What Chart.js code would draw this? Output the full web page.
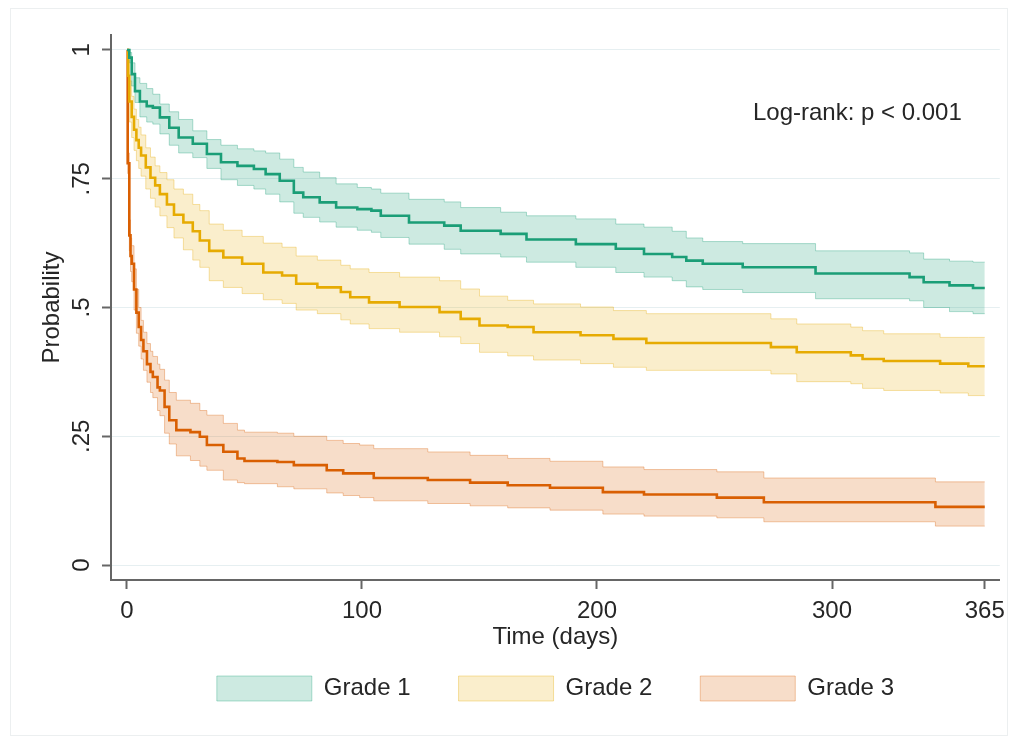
<!DOCTYPE html>
<html>
<head>
<meta charset="utf-8">
<title>Kaplan-Meier survival by grade</title>
<script src="https://cdn.jsdelivr.net/npm/chart.js@4/dist/chart.umd.min.js"></script>
<style>
  html, body { margin: 0; padding: 0; background: #ffffff; }
  canvas { display: block; }
</style>
</head>
<body>
<canvas id="km" width="1013" height="742"></canvas>
<script>
// Kaplan-Meier estimates with 95% confidence bands, one set per grade.
// Each grade: event times (days), survival estimate, lower and upper limits.
const grade1Time  = [0, 1, 2, 3.4, 5.5, 8.4, 11, 14, 18, 22, 28, 34, 40, 47, 54, 59, 65, 71, 75, 82, 89, 98, 104, 108, 120, 135, 142, 159, 170, 191, 208, 220, 232, 238, 245, 262, 293, 333, 339, 350, 360, 365];
const grade1Surv  = [1, 0.985, 0.953, 0.92, 0.90, 0.891, 0.888, 0.869, 0.849, 0.830, 0.818, 0.798, 0.782, 0.775, 0.769, 0.759, 0.746, 0.723, 0.714, 0.704, 0.694, 0.691, 0.688, 0.678, 0.665, 0.659, 0.649, 0.643, 0.632, 0.623, 0.614, 0.604, 0.598, 0.591, 0.585, 0.578, 0.566, 0.559, 0.549, 0.543, 0.538, 0.538];
const grade1Upper = [1, 0.995, 0.975, 0.946, 0.935, 0.925, 0.914, 0.895, 0.880, 0.865, 0.843, 0.826, 0.815, 0.808, 0.804, 0.800, 0.788, 0.772, 0.763, 0.752, 0.740, 0.733, 0.730, 0.722, 0.710, 0.705, 0.694, 0.685, 0.678, 0.672, 0.662, 0.656, 0.648, 0.635, 0.628, 0.624, 0.610, 0.606, 0.594, 0.590, 0.588, 0.588];
const grade1Lower = [1, 0.975, 0.93, 0.898, 0.870, 0.860, 0.856, 0.837, 0.815, 0.800, 0.791, 0.770, 0.748, 0.737, 0.730, 0.720, 0.705, 0.683, 0.675, 0.666, 0.656, 0.650, 0.646, 0.636, 0.623, 0.613, 0.604, 0.598, 0.588, 0.578, 0.568, 0.559, 0.552, 0.540, 0.535, 0.529, 0.517, 0.513, 0.500, 0.492, 0.488, 0.488];

const grade2Time  = [0, 0.5, 1, 2, 3, 4, 5, 6, 8, 10, 12, 14, 17, 20, 24, 28, 31, 35, 41, 49, 58, 66, 72, 81, 91, 95, 103, 116, 133, 142, 150, 162, 173, 193, 207, 221, 274, 285, 308, 313, 322, 346, 358, 365];
const grade2Surv  = [1, 0.95, 0.90, 0.87, 0.845, 0.825, 0.81, 0.795, 0.772, 0.752, 0.737, 0.72, 0.70, 0.68, 0.665, 0.648, 0.63, 0.61, 0.597, 0.585, 0.568, 0.562, 0.546, 0.539, 0.53, 0.52, 0.51, 0.501, 0.491, 0.478, 0.465, 0.462, 0.452, 0.446, 0.439, 0.431, 0.423, 0.413, 0.407, 0.40, 0.396, 0.391, 0.386, 0.386];
const grade2Upper = [1, 0.98, 0.94, 0.91, 0.885, 0.865, 0.85, 0.835, 0.81, 0.792, 0.775, 0.762, 0.748, 0.73, 0.72, 0.70, 0.688, 0.662, 0.650, 0.638, 0.625, 0.617, 0.600, 0.592, 0.582, 0.575, 0.568, 0.559, 0.552, 0.536, 0.522, 0.514, 0.507, 0.501, 0.494, 0.488, 0.478, 0.468, 0.462, 0.455, 0.449, 0.442, 0.442, 0.442];
const grade2Lower = [1, 0.92, 0.86, 0.83, 0.805, 0.785, 0.77, 0.755, 0.73, 0.712, 0.695, 0.678, 0.655, 0.635, 0.612, 0.592, 0.578, 0.552, 0.539, 0.527, 0.515, 0.508, 0.495, 0.488, 0.476, 0.468, 0.459, 0.452, 0.443, 0.430, 0.413, 0.406, 0.398, 0.391, 0.384, 0.378, 0.371, 0.356, 0.352, 0.343, 0.339, 0.334, 0.329, 0.329];

const grade3Time  = [0, 0.3, 1, 1.5, 2, 3, 4, 5, 6, 7, 8.5, 10, 11, 13, 14, 16, 18, 21, 27, 31, 34, 41, 47, 50, 64, 71, 85, 92, 99, 105, 128, 146, 162, 180, 202.5, 220, 251, 271, 344, 365];
const grade3Surv  = [1, 0.78, 0.64, 0.60, 0.585, 0.535, 0.49, 0.462, 0.437, 0.415, 0.39, 0.375, 0.365, 0.345, 0.339, 0.307, 0.281, 0.262, 0.258, 0.249, 0.233, 0.22, 0.207, 0.202, 0.20, 0.194, 0.184, 0.178, 0.178, 0.169, 0.165, 0.160, 0.155, 0.150, 0.1415, 0.137, 0.131, 0.122, 0.113, 0.113];
const grade3Upper = [1, 0.80, 0.67, 0.635, 0.62, 0.575, 0.535, 0.50, 0.475, 0.452, 0.43, 0.415, 0.405, 0.39, 0.38, 0.359, 0.335, 0.32, 0.314, 0.30, 0.291, 0.275, 0.262, 0.258, 0.256, 0.25, 0.242, 0.236, 0.233, 0.226, 0.2196, 0.213, 0.207, 0.2015, 0.1905, 0.1854, 0.181, 0.169, 0.1615, 0.1615];
const grade3Lower = [1, 0.76, 0.61, 0.57, 0.55, 0.495, 0.45, 0.425, 0.40, 0.378, 0.355, 0.335, 0.325, 0.30, 0.29, 0.256, 0.235, 0.212, 0.203, 0.192, 0.184, 0.165, 0.16, 0.158, 0.152, 0.148, 0.14, 0.135, 0.131, 0.1247, 0.1195, 0.115, 0.111, 0.1066, 0.099, 0.095, 0.0917, 0.084, 0.0756, 0.0756];

const groupNames = ['Grade 1', 'Grade 2', 'Grade 3'];
const xTickValues = [0, 100, 200, 300, 365];
const yTickValues = [0, 0.25, 0.5, 0.75, 1];
const yTickLabels = ['0', '.25', '.5', '.75', '1'];
const testLabel = 'Log-rank: p < 0.001';

const FONT = '"Liberation Sans", Arial, Helvetica, sans-serif';
const TEXT = '#262626';
const palette = [
  { line: '#1b9e77', band: 'rgba(27,158,119,0.22)', edge: 'rgba(27,158,119,0.34)' },
  { line: '#e6ab02', band: 'rgba(230,171,2,0.20)',  edge: 'rgba(230,171,2,0.34)' },
  { line: '#d95f02', band: 'rgba(217,95,2,0.21)',   edge: 'rgba(217,95,2,0.34)' }
];

const groups = [
  { time: grade1Time, surv: grade1Surv, lo: grade1Lower, hi: grade1Upper },
  { time: grade2Time, surv: grade2Surv, lo: grade2Lower, hi: grade2Upper },
  { time: grade3Time, surv: grade3Surv, lo: grade3Lower, hi: grade3Upper }
];

const pts = (xs, ys) => xs.map((x, i) => ({ x: x, y: ys[i] }));

const datasets = [];
// confidence bands: upper edge filled down to the lower edge
groups.forEach((g, i) => {
  datasets.push({
    label: groupNames[i], inLegend: true, order: 1,
    data: pts(g.time, g.hi), stepped: true, fill: '+1',
    backgroundColor: palette[i].band, borderColor: palette[i].edge, borderWidth: 1,
    pointRadius: 0
  });
  datasets.push({
    label: groupNames[i] + ' lower', order: 1,
    data: pts(g.time, g.lo), stepped: true, fill: false,
    backgroundColor: palette[i].band, borderColor: palette[i].edge, borderWidth: 1,
    pointRadius: 0
  });
});
// survival step curves on top
groups.forEach((g, i) => {
  datasets.push({
    label: groupNames[i] + ' estimate', order: 0,
    data: pts(g.time, g.surv), stepped: true, fill: false,
    borderColor: palette[i].line, borderWidth: 2.6, pointRadius: 0
  });
});

// faint outline around the whole graph region
const framePlugin = {
  id: 'frame',
  beforeDraw(chart) {
    const c = chart.ctx;
    c.save();
    c.strokeStyle = '#eceff0';
    c.lineWidth = 1;
    c.strokeRect(10.5, 8.5, chart.width - 16, chart.height - 15);
    c.restore();
  }
};

// test result written inside the plot, upper right
const notePlugin = {
  id: 'note',
  afterDatasetsDraw(chart) {
    const a = chart.chartArea;
    const c = chart.ctx;
    c.save();
    c.font = '24px ' + FONT;
    c.fillStyle = TEXT;
    c.textAlign = 'right';
    c.textBaseline = 'alphabetic';
    c.fillText(testLabel, a.right - 38, a.top + 85);
    c.restore();
  }
};

Chart.defaults.font.family = FONT;
Chart.defaults.color = TEXT;

new Chart(document.getElementById('km'), {
  type: 'line',
  data: { datasets: datasets },
  plugins: [framePlugin, notePlugin],
  options: {
    responsive: false,
    animation: false,
    layout: { padding: { left: 0, right: 13, top: 35, bottom: 31 } },
    plugins: {
      tooltip: { enabled: false },
      legend: {
        position: 'bottom',
        fullSize: false,
        labels: {
          boxWidth: 95, boxHeight: 25, padding: 48,
          font: { size: 24 }, color: TEXT,
          filter: (item, data) => !!data.datasets[item.datasetIndex].inLegend
        }
      }
    },
    scales: {
      x: {
        type: 'linear', min: -6.8, max: 371.4,
        afterBuildTicks: s => { s.ticks = xTickValues.map(v => ({ value: v })); },
        afterFit: s => { s.height = 48; },
        ticks: { font: { size: 24 }, color: TEXT, padding: 8, maxRotation: 0, autoSkip: false,
                 callback: v => String(v) },
        grid: { drawOnChartArea: false, drawTicks: true, tickLength: 9, tickColor: '#666', tickWidth: 2 },
        border: { color: '#666', width: 2 },
        title: { display: true, text: 'Time (days)', font: { size: 24 }, color: TEXT,
                 padding: { top: 0, bottom: -24 } }
      },
      y: {
        type: 'linear', min: -0.029, max: 1.029,
        afterBuildTicks: s => { s.ticks = yTickValues.map(v => ({ value: v })); },
        afterFit: s => { s.width = 111; },
        ticks: {
          font: { size: 24 }, color: TEXT, padding: 3,
          minRotation: 90, maxRotation: 90, crossAlign: 'center', autoSkip: false,
          callback: v => { const k = yTickValues.indexOf(v); return k >= 0 ? yTickLabels[k] : ''; }
        },
        grid: { color: '#e6eff1', lineWidth: 1, drawTicks: true, tickLength: 9, tickColor: '#666', tickWidth: 2 },
        border: { color: '#666', width: 2 },
        title: { display: true, text: 'Probability', font: { size: 24 }, color: TEXT,
                 padding: { top: 38, bottom: 0 } }
      }
    }
  }
});
</script>
</body>
</html>
